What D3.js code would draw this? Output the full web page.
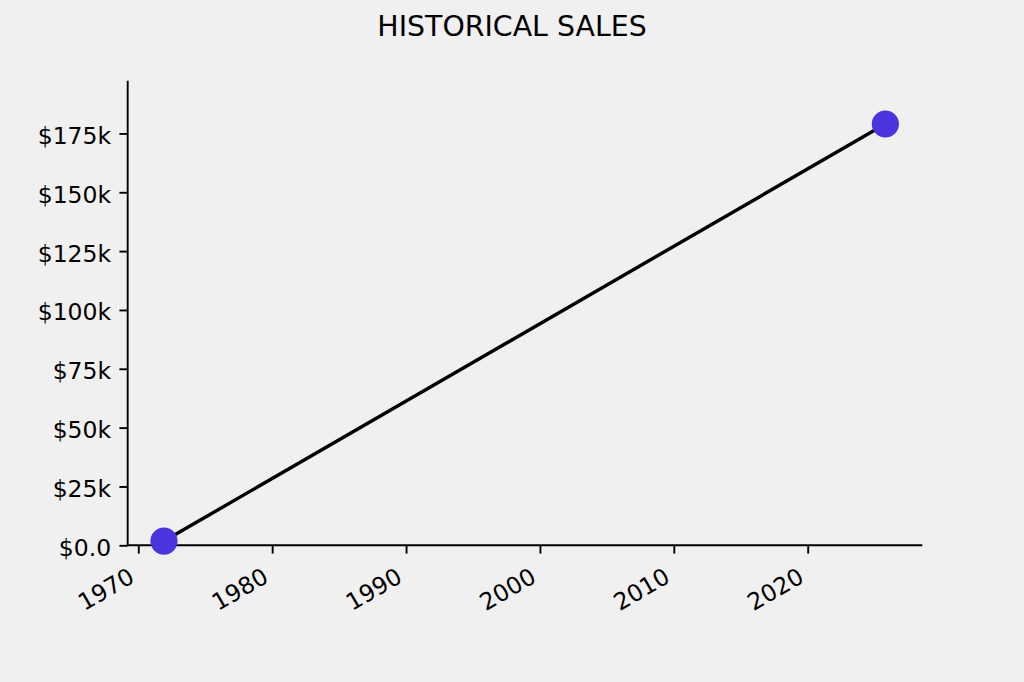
<!DOCTYPE html>
<html>
<head>
<meta charset="utf-8">
<script src="https://cdn.jsdelivr.net/npm/d3@7"></script>
<style>
  html, body { margin: 0; padding: 0; background: #f0f0f0; }
  svg { display: block; }
  text { font-family: "DejaVu Sans", sans-serif; fill: #000; }
</style>
</head>
<body>
<script>
// ---- data ----
const years = [1971.92, 2025.8];          // decimal year of each observation
const sales = [1800, 179000];             // sales in dollars
const xTickValues = [1970, 1980, 1990, 2000, 2010, 2020];
const yTickValues = [0, 25000, 50000, 75000, 100000, 125000, 150000, 175000];
const xDomain = [1969.21, 2028.56];
const yDomain = [0, 197400];
const chartTitle = "HISTORICAL SALES";

// ---- layout ----
const W = 1024, H = 682;
const mLeft = 127.7, mRight = 922.3, mTop = 80.7, mBottom = 545.3;

const svg = d3.select("body").append("svg").attr("width", W).attr("height", H);
svg.append("rect").attr("width", W).attr("height", H).attr("fill", "#f0f0f0");

const x = d3.scaleLinear().domain(xDomain).range([mLeft, mRight]);
const y = d3.scaleLinear().domain(yDomain).range([mBottom, mTop]);

const fmtY = v => v === 0 ? "$0.0" : "$" + d3.format("d")(v / 1000) + "k";

// title
svg.append("text").attr("x", 512).attr("y", 36).attr("text-anchor", "middle")
  .style("font-size", "28.4px").text(chartTitle);

// y axis
const yAxis = svg.append("g").attr("transform", `translate(${mLeft},0)`)
  .call(d3.axisLeft(y).tickValues(yTickValues).tickFormat(fmtY).tickSize(8.3).tickPadding(8.3));
yAxis.select(".domain").attr("d", `M0,${mTop}V${mBottom}`).attr("stroke", "#000").attr("stroke-width", 1.9);
yAxis.selectAll(".tick line").attr("stroke", "#000").attr("stroke-width", 1.9);
yAxis.selectAll(".tick text").style("font-size", "23.5px").attr("font-family", null)
  .attr("dy", null).attr("y", 10);

// x axis
const xAxis = svg.append("g").attr("transform", `translate(0,${mBottom})`)
  .call(d3.axisBottom(x).tickValues(xTickValues).tickFormat(d3.format("d")).tickSize(8.3));
xAxis.select(".domain").attr("d", `M${mLeft},0H${mRight}`).attr("stroke", "#000").attr("stroke-width", 1.9);
xAxis.selectAll(".tick line").attr("stroke", "#000").attr("stroke-width", 1.9);
xAxis.selectAll(".tick text").style("font-size", "23.5px").attr("font-family", null)
  .attr("dy", null).attr("y", null)
  .attr("text-anchor", "end")
  .attr("transform", "translate(-2.8,36) rotate(-30)");
svg.selectAll(".domain").attr("fill", "none");

// line + points
const pts = years.map((yr, i) => ({ yr, v: sales[i] }));
svg.append("path").datum(pts)
  .attr("fill", "none").attr("stroke", "#000").attr("stroke-width", 3.4)
  .attr("d", d3.line().x(d => x(d.yr)).y(d => y(d.v)));
svg.selectAll("circle.pt").data(pts).enter().append("circle")
  .attr("class", "pt")
  .attr("cx", d => x(d.yr)).attr("cy", d => y(d.v)).attr("r", 13.6)
  .attr("fill", "#4a34dd");
</script>
</body>
</html>
